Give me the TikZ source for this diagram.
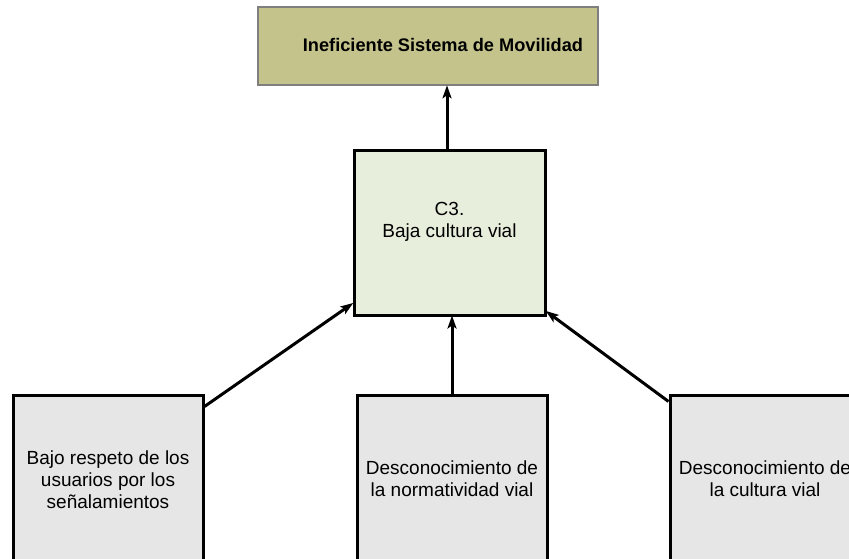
\documentclass[tikz,border=0pt]{standalone}
\usepackage{fontspec}
\setmainfont{Liberation Sans}
\usetikzlibrary{arrows.meta,calc}
\definecolor{topfill}{HTML}{C4C38C}
\definecolor{topdraw}{HTML}{7F7F7F}
\definecolor{cfill}{HTML}{E8EEDC}
\definecolor{bfill}{HTML}{E6E6E6}
\tikzset{
  box/.style={draw=black, line width=3pt, inner sep=0pt, minimum width=#1, minimum height=170pt},
  txt/.style={align=center, inner sep=0pt, font=\fontsize{19}{22}\selectfont},
  conn/.style={draw=black, line width=3pt, -{Stealth[length=13pt,width=9pt,inset=3pt]}, shorten >=-1pt}
}
\begin{document}
\begin{tikzpicture}[x=1pt,y=-1pt]
\useasboundingbox (0,0) rectangle (849,559);
\clip (0,0) rectangle (849,559);
\node[draw=topdraw, fill=topfill, line width=2.6pt, minimum width=340pt, minimum height=78pt, inner sep=0pt] (top) at (428,46) {};
\node[txt, font=\fontsize{18.2}{22}\selectfont\bfseries] (toptext) at (443,45) {Ineficiente Sistema de Movilidad};
\node[box=191pt, fill=cfill, minimum height=164pt] (c3) at (449.5,233) {};
\node[txt] (c3text) at (449.5,222) {C3.\\Baja cultura vial};
\node[box=190pt, fill=bfill] (b1) at (108,480) {};
\node[txt] (b1text) at (108,480) {Bajo respeto de los\\usuarios por los\\señalamientos};
\node[box=190pt, fill=bfill] (b2) at (452,480) {};
\node[txt] (b2text) at (452,479) {Desconocimiento de\\la normatividad vial};
\node[box=190pt, fill=bfill] (b3) at (765,480) {};
\node[txt] (b3text) at (765,479) {Desconocimiento de\\la cultura vial};
\draw[conn] (c3.north -| 447,0) -- (top.south -| 447,0);
\draw[conn] (b2.north) -- (b2.north |- c3.south);
\draw[conn] ($(b1.north east)+(0,13)$) -- ($(c3.south west)+(0,-13)$);
\draw[conn] ($(b3.north west)+(0,8)$) -- ($(c3.south east)+(0,-5)$);
\end{tikzpicture}
\end{document}
